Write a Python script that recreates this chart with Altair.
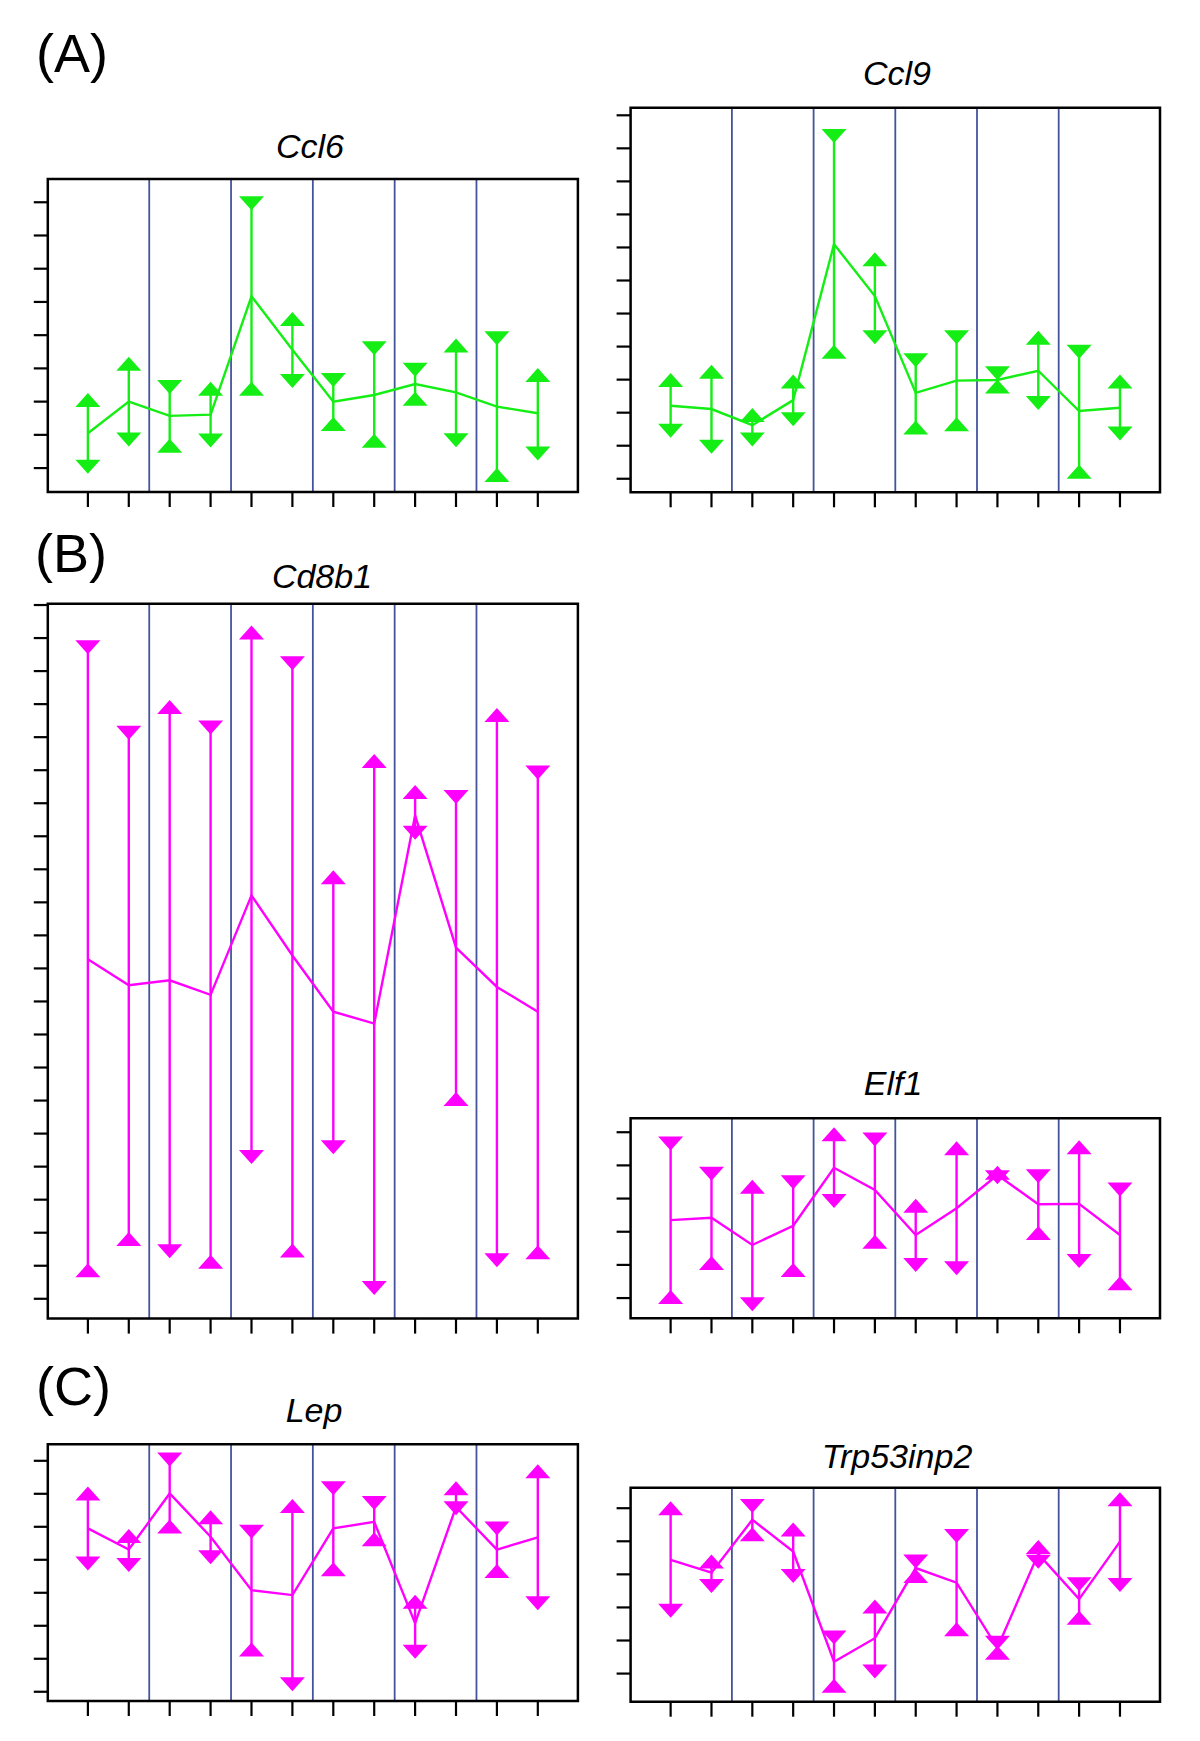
import altair as alt
import pandas as pd

X = list(range(1, 13))
SEPARATORS = [2.5, 4.5, 6.5, 8.5, 10.5]

# ---- data (values in y-tick units) ----
CCL6_MEAN = [1.05, 2.00, 1.57, 1.61, 5.17, 3.56, 2.00, 2.20, 2.53, 2.28, 1.85, 1.65]
CCL6_HI = [2.05, 3.14, 2.44, 2.39, 7.97, 4.49, 2.65, 3.61, 2.96, 3.69, 3.91, 2.80]
CCL6_LO = [0.04, 0.86, 0.67, 0.83, 2.39, 2.62, 1.33, 0.82, 2.09, 0.84, -0.21, 0.44]
CCL6_KIND = ["out", "out", "in", "out", "in", "out", "in", "in", "in", "out", "in", "out"]

CCL9_MEAN = [2.21, 2.11, 1.62, 2.38, 7.10, 5.53, 2.60, 2.97, 2.99, 3.27, 2.05, 2.15]
CCL9_HI = [2.99, 3.24, 1.93, 2.94, 10.37, 6.64, 3.59, 4.28, 3.19, 4.27, 3.84, 2.94]
CCL9_LO = [1.45, 0.97, 1.19, 1.80, 3.84, 4.28, 1.55, 1.65, 2.79, 2.29, 0.21, 1.37]
CCL9_KIND = ["out", "out", "out", "out", "in", "out", "in", "in", "in", "out", "in", "out"]

CD8B1_MEAN = [10.28, 9.49, 9.64, 9.20, 12.21, 10.39, 8.69, 8.33, 14.63, 10.63, 9.44, 8.69]
CD8B1_HI = [19.72, 17.13, 17.91, 17.29, 20.17, 19.24, 12.76, 16.28, 15.34, 15.19, 17.67, 15.93]
CD8B1_LO = [0.86, 1.81, 1.44, 1.12, 4.29, 1.46, 4.59, 0.33, 14.11, 6.05, 1.17, 1.41]
CD8B1_KIND = ["in", "in", "out", "in", "out", "in", "out", "out", "out", "in", "out", "in"]

ELF1_MEAN = [2.35, 2.42, 1.60, 2.18, 3.93, 3.26, 1.90, 2.71, 3.71, 2.83, 2.84, 1.90]
ELF1_HI = [4.66, 3.75, 3.36, 3.49, 4.94, 4.78, 2.78, 4.52, 3.78, 3.67, 4.55, 3.27]
ELF1_LO = [0.03, 1.06, -0.19, 0.85, 2.93, 1.70, 1.00, 0.90, 3.64, 1.96, 1.12, 0.45]
ELF1_KIND = ["in", "in", "out", "in", "out", "in", "out", "out", "out", "in", "out", "in"]

LEP_MEAN = [4.95, 4.31, 6.01, 4.70, 3.08, 2.93, 4.95, 5.15, 2.08, 5.60, 4.31, 4.68]
LEP_HI = [6.01, 4.72, 7.04, 5.29, 4.85, 5.63, 6.17, 5.72, 2.73, 6.17, 4.95, 6.68]
LEP_LO = [3.89, 3.84, 5.01, 4.08, 1.28, 0.23, 3.71, 4.62, 1.21, 5.56, 3.66, 2.68]
LEP_KIND = ["out", "out", "in", "out", "in", "out", "in", "in", "out", "out", "in", "out"]

TRP_MEAN = [3.44, 3.05, 4.65, 3.69, 0.36, 1.07, 3.19, 2.75, 0.78, 3.62, 2.25, 3.99]
TRP_HI = [5.00, 3.39, 5.07, 4.36, 1.09, 2.03, 3.39, 4.16, 0.93, 3.83, 2.70, 5.27]
TRP_LO = [1.90, 2.65, 4.21, 2.95, -0.37, 0.06, 2.95, 1.34, 0.63, 3.38, 1.69, 2.68]
TRP_KIND = ["out", "out", "in", "out", "in", "out", "in", "in", "in", "out", "in", "out"]

GREEN = "#14EE14"
MAGENTA = "#FF00FF"
BLUE = "#44549C"

# ---- layout (page pixel coordinates) ----
PANELS = [
    dict(name="Ccl6", mean=CCL6_MEAN, hi=CCL6_HI, lo=CCL6_LO, kind=CCL6_KIND, color=GREEN,
         box=(47.8, 577.9, 179.0, 492.0), ydom=(-0.72, 8.70), nt=9, title=(310, 158)),
    dict(name="Ccl9", mean=CCL9_MEAN, hi=CCL9_HI, lo=CCL9_LO, kind=CCL9_KIND, color=GREEN,
         box=(630.6, 1160.0, 107.7, 492.3), ydom=(-0.41, 11.23), nt=12, title=(897, 85)),
    dict(name="Cd8b1", mean=CD8B1_MEAN, hi=CD8B1_HI, lo=CD8B1_LO, kind=CD8B1_KIND, color=MAGENTA,
         box=(47.8, 577.9, 603.7, 1318.6), ydom=(-0.60, 21.04), nt=22, title=(322, 588)),
    dict(name="Elf1", mean=ELF1_MEAN, hi=ELF1_HI, lo=ELF1_LO, kind=ELF1_KIND, color=MAGENTA,
         box=(630.6, 1160.0, 1118.3, 1318.3), ydom=(-0.61, 5.42), nt=6, title=(893, 1095)),
    dict(name="Lep", mean=LEP_MEAN, hi=LEP_HI, lo=LEP_LO, kind=LEP_KIND, color=MAGENTA,
         box=(47.8, 577.9, 1444.3, 1701.0), ydom=(-0.28, 7.50), nt=8, title=(314, 1421.7)),
    dict(name="Trp53inp2", mean=TRP_MEAN, hi=TRP_HI, lo=TRP_LO, kind=TRP_KIND, color=MAGENTA,
         box=(630.6, 1160.0, 1487.7, 1701.7), ydom=(-0.85, 5.62), nt=6, title=(897, 1468.3)),
]
LABELS = [("(A)", 36, 71.7), ("(B)", 35, 571.7), ("(C)", 36, 1405)]

M = 8  # page margin
UP = "M0,-0.56L1,0.56L-1,0.56Z"
DOWN = "M0,0.56L1,-0.56L-1,-0.56Z"
TRI_SIZE = 625
FONT = "Liberation Sans"
LW = 2.4


def make_panel(p):
    x0, x1, y0, y1 = [v - M for v in p["box"]]
    xs = alt.Scale(domain=[0.02, 12.98], range=[x0, x1], zero=False, nice=False)
    ys = alt.Scale(domain=list(p["ydom"]), range=[y1, y0], zero=False, nice=False)
    color = p["color"]
    df = pd.DataFrame({"x": X, "m": p["mean"], "hi": p["hi"], "lo": p["lo"], "kind": p["kind"]})
    rows = []
    for xi, h, l, k in zip(X, p["hi"], p["lo"], p["kind"]):
        rows.append({"x": xi, "v": h, "d": "up" if k == "out" else "down"})
        rows.append({"x": xi, "v": l, "d": "down" if k == "out" else "up"})
    tri = pd.DataFrame(rows)

    xenc = alt.X("x:Q", scale=xs, axis=None)

    seps = alt.Chart(pd.DataFrame({"x": SEPARATORS})).mark_rule(
        color=BLUE, strokeWidth=1.8
    ).encode(x=xenc, y=alt.value(y0), y2=alt.value(y1))

    bars = alt.Chart(df).mark_rule(color=color, strokeWidth=LW).encode(
        x=xenc, y=alt.Y("lo:Q", scale=ys, axis=None), y2="hi:Q"
    )
    line = alt.Chart(df).mark_line(color=color, strokeWidth=LW).encode(
        x=xenc, y=alt.Y("m:Q", scale=ys, axis=None), order="x:Q"
    )
    up = alt.Chart(tri).transform_filter("datum.d == 'up'").mark_point(
        shape=UP, filled=True, size=TRI_SIZE, color=color, opacity=1, strokeWidth=0
    ).encode(x=xenc, y=alt.Y("v:Q", scale=ys, axis=None))
    down = alt.Chart(tri).transform_filter("datum.d == 'down'").mark_point(
        shape=DOWN, filled=True, size=TRI_SIZE, color=color, opacity=1, strokeWidth=0
    ).encode(x=xenc, y=alt.Y("v:Q", scale=ys, axis=None))

    box = alt.Chart(pd.DataFrame({"a": [0]})).mark_rect(
        fillOpacity=0, stroke="black", strokeWidth=2.5
    ).encode(x=alt.value(x0), x2=alt.value(x1), y=alt.value(y0), y2=alt.value(y1))

    yt = alt.Chart(pd.DataFrame({"t": list(range(p["nt"]))})).mark_rule(
        color="black", strokeWidth=2.2
    ).encode(y=alt.Y("t:Q", scale=ys, axis=None), x=alt.value(x0 - 14), x2=alt.value(x0))
    xt = alt.Chart(pd.DataFrame({"x": X})).mark_rule(color="black", strokeWidth=2.2).encode(
        x=xenc, y=alt.value(y1), y2=alt.value(y1 + 15)
    )

    tx, ty = p["title"]
    title = alt.Chart(pd.DataFrame({"t": [p["name"]]})).mark_text(
        font=FONT, fontSize=34, fontStyle="italic", align="center", baseline="alphabetic", color="black"
    ).encode(text="t:N", x=alt.value(tx - M), y=alt.value(ty - M))

    return alt.layer(seps, bars, line, up, down, box, yt, xt, title)


layers = [make_panel(p) for p in PANELS]
for txt, lx, ly in LABELS:
    layers.append(
        alt.Chart(pd.DataFrame({"t": [txt]})).mark_text(
            font=FONT, fontSize=54, align="left", baseline="alphabetic", color="black"
        ).encode(text="t:N", x=alt.value(lx - M), y=alt.value(ly - M))
    )

chart = alt.layer(*layers).resolve_scale(x="independent", y="independent").properties(
    width=1184, height=1725, padding=0, autosize=alt.AutoSizeParams(type="none")
).configure_view(stroke=None)

chart.save("out.html", embed_options={"renderer": "svg", "actions": False})
